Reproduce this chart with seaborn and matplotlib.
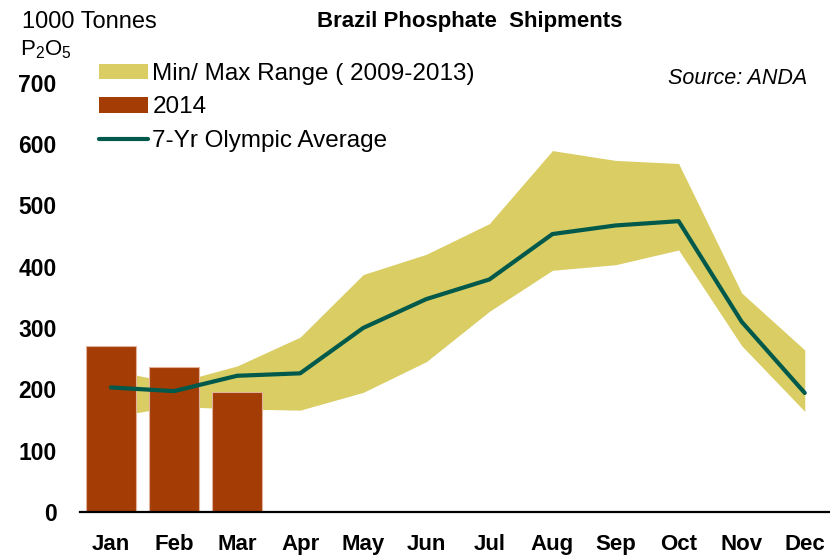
import numpy as np
import pandas as pd
import matplotlib
matplotlib.use("Agg")
import matplotlib.pyplot as plt
import seaborn as sns
from matplotlib.patches import Patch
from matplotlib.lines import Line2D

# --- data
months = ["Jan", "Feb", "Mar", "Apr", "May", "Jun",
          "Jul", "Aug", "Sep", "Oct", "Nov", "Dec"]
range_min = [155, 172, 168, 166, 195, 245, 327, 394, 403, 427, 271, 164]
range_max = [232, 210, 238, 285, 387, 420, 470, 589, 573, 568, 357, 264]
olympic_avg = [203, 197, 222, 226, 300, 347, 379, 453, 467, 474, 310, 194]
months_2014 = ["Jan", "Feb", "Mar"]
shipments_2014 = [271, 237, 195]
yticks = [0, 100, 200, 300, 400, 500, 600, 700]

band_color = "#D9CD63"
bar_color = "#A33C05"
line_color = "#00594B"

sns.set_style("white")
plt.rcParams["font.family"] = ["Liberation Sans", "DejaVu Sans"]
plt.rcParams["mathtext.fontset"] = "custom"
plt.rcParams["mathtext.rm"] = "Liberation Sans"
plt.rcParams["text.color"] = "black"

fig = plt.figure(figsize=(8.3, 5.56), dpi=100)
ax = fig.add_axes([80 / 830, 44 / 556, 750 / 830, 429.5 / 556])

x = np.arange(len(months))
ax.fill_between(x, range_min, range_max, color=band_color, lw=0, zorder=1)

df14 = pd.DataFrame({"month": months_2014, "value": shipments_2014})
sns.barplot(data=df14, x="month", y="value", order=months, color=bar_color,
            saturation=1, width=0.78, edgecolor="#E2B29A", linewidth=0.8,
            ax=ax, zorder=2)

df_avg = pd.DataFrame({"month": months, "value": olympic_avg})
sns.lineplot(data=df_avg, x="month", y="value", sort=False, color=line_color,
             lw=3, solid_capstyle="round", solid_joinstyle="round", ax=ax, zorder=3)

ax.set_xlim(-0.49, 11.4)
ax.set_ylim(0, 700)
ax.set_yticks(yticks)
ax.set_yticklabels([str(v) for v in yticks], fontsize=16.5, fontweight="bold")
ax.set_xticks(x)
ax.set_xticklabels(months, fontsize=16, fontweight="bold")
ax.tick_params(axis="both", length=0, labelcolor="black")
ax.tick_params(axis="y", pad=17)
ax.tick_params(axis="x", pad=16)
ax.set_xlabel("")
ax.set_ylabel("")
for s in ["top", "right", "left"]:
    ax.spines[s].set_visible(False)
ax.spines["bottom"].set_color("black")
ax.spines["bottom"].set_linewidth(1.6)
ax.spines["bottom"].set_zorder(4)

handles = [Patch(facecolor=band_color, edgecolor="none"),
           Patch(facecolor=bar_color, edgecolor="none"),
           Line2D([0], [0], color=line_color, lw=3, solid_capstyle="round")]
labels = ["Min/ Max Range ( 2009-2013)", "2014", "7-Yr Olympic Average"]
fig.legend(handles, labels, loc="upper left",
           bbox_to_anchor=(99 / 830, 1 - 63 / 556), bbox_transform=fig.transFigure,
           frameon=False, fontsize=17.5, handlelength=2.0, handleheight=0.6,
           handletextpad=0.2, labelspacing=0.47, borderpad=0, borderaxespad=0)

fig.text(470 / 830, 1 - 22 / 556, "Brazil Phosphate  Shipments", ha="center",
         va="center", fontsize=16, fontweight="bold")
fig.text(22 / 830, 1 - 22 / 556, "1000 Tonnes", ha="left", va="center", fontsize=17)
fig.text(20 / 830, 1 - 50 / 556, r"P$_\mathregular{2}$O$_\mathregular{5}$",
         ha="left", va="center", fontsize=16)
fig.text(807 / 830, 1 - 79 / 556, "Source: ANDA", ha="right", va="center",
         fontsize=15.5, fontstyle="italic")

fig.savefig("out.png", dpi=100)
